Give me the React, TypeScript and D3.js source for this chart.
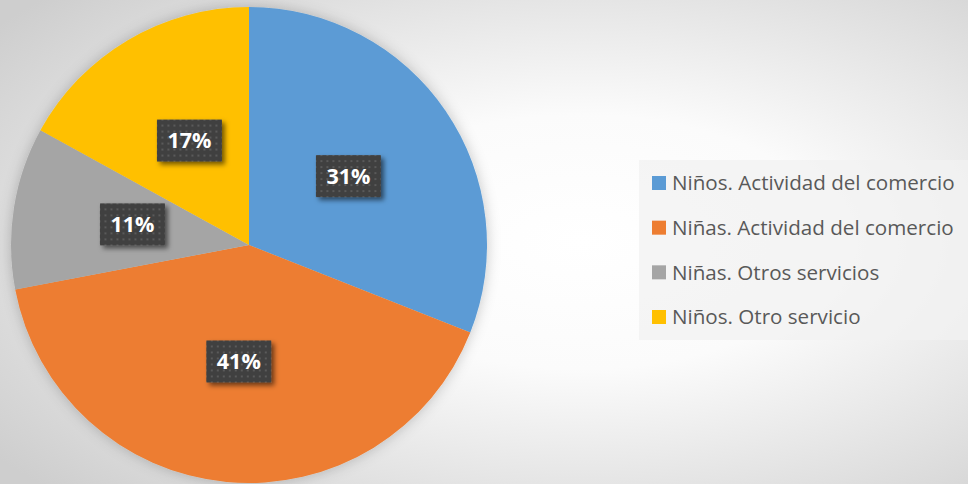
import React from "react";
import * as d3 from "d3";

const categories = [
  "Niños. Actividad del comercio",
  "Niñas. Actividad del comercio",
  "Niñas. Otros servicios",
  "Niños. Otro servicio",
];
const values = [31, 41, 11, 17];
const colors = ["#5b9bd5", "#ed7d31", "#a5a5a5", "#ffc000"];
const labels = ["31%", "41%", "11%", "17%"];

const W = 968;
const H = 484;
const cx = 249;
const cy = 245;
const R = 238;

export default function App() {
  const pie = d3.pie<number>().sort(null).value((d) => d)(values);
  const arc = d3.arc<d3.PieArcDatum<number>>().innerRadius(0).outerRadius(R);
  const labelArc = d3.arc<d3.PieArcDatum<number>>().innerRadius(R * 0.5).outerRadius(R * 0.5);
  const font = "'Open Sans', 'DejaVu Sans', sans-serif";
  const legendY = d3.scalePoint<number>().domain(d3.range(categories.length)).range([183, 317]);

  return (
    <svg width={W} height={H} style={{ position: "absolute", left: 0, top: 0, display: "block" }}>
      <defs>
        <radialGradient id="bg" cx="0.6" cy="0.5" r="0.75" fx="0.6" fy="0.5">
          <stop offset="0" stopColor="#ffffff" />
          <stop offset="0.35" stopColor="#fbfbfb" />
          <stop offset="1" stopColor="#cecece" />
        </radialGradient>
        <filter id="pieShadow" x="-20%" y="-20%" width="140%" height="140%">
          <feDropShadow dx="0" dy="0" stdDeviation="7" floodColor="#000" floodOpacity="0.22" />
        </filter>
        <filter id="boxShadow" x="-30%" y="-30%" width="160%" height="160%">
          <feDropShadow dx="3" dy="3" stdDeviation="2.5" floodColor="#000" floodOpacity="0.55" />
        </filter>
        <pattern id="dots" width="6" height="6" patternUnits="userSpaceOnUse">
          <rect width="6" height="6" fill="#404040" />
          <rect x="2" y="2" width="2" height="2" fill="#5a5a5a" />
        </pattern>
      </defs>
      <rect width={W} height={H} fill="url(#bg)" />
      <g transform={`translate(${cx},${cy})`}>
        <g filter="url(#pieShadow)">
          {pie.map((d, i) => (
            <path key={i} d={arc(d) || ""} fill={colors[i]} />
          ))}
        </g>
        {pie.map((d, i) => {
          const [lx, ly0] = labelArc.centroid(d);
          const ly = ly0 - 2;
          const bw = 65;
          const bh = 42;
          return (
            <g key={"l" + i} transform={`translate(${lx + 1},${ly})`}>
              <rect x={-bw / 2} y={-bh / 2} width={bw} height={bh} fill="url(#dots)" filter="url(#boxShadow)" />
              <text
                x={0}
                y={0}
                dy="0.36em"
                textAnchor="middle"
                fontFamily={font}
                fontWeight={700}
                fontSize={21.5}
                fill="#ffffff"
              >
                {labels[i]}
              </text>
            </g>
          );
        })}
      </g>
      <rect x={639} y={160} width={329} height={180} fill="#f2f2f2" opacity={0.75} />
      {categories.map((c, i) => (
        <g key={"lg" + i} transform={`translate(652,${legendY(i)})`}>
          <rect x={0} y={-7} width={14} height={14} fill={colors[i]} />
          <text x={20} y={0} dy="0.35em" fontFamily={font} fontSize={20.6} fill="#595959">
            {c}
          </text>
        </g>
      ))}
    </svg>
  );
}
